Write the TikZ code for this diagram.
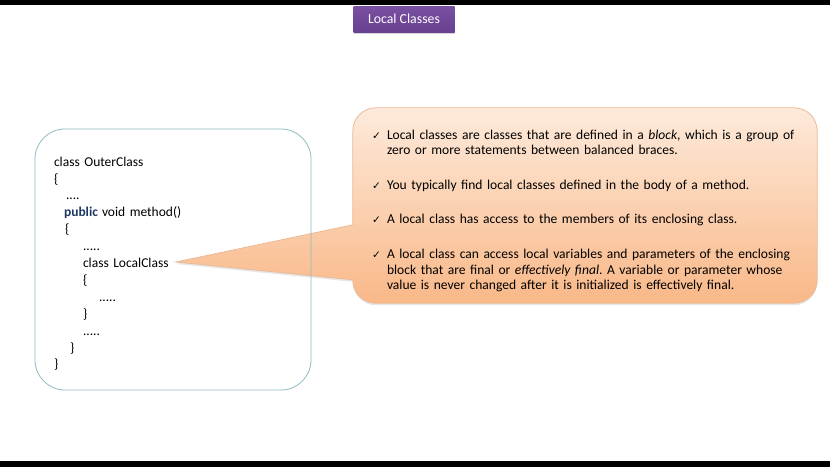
\documentclass[tikz,border=0pt]{standalone}
\usepackage{fontspec}
\setmainfont{Carlito}
\newfontfamily\symfont{DejaVu Sans}
\usetikzlibrary{positioning,backgrounds,shadows,calc}
\frenchspacing

\definecolor{titlepurple}{RGB}{122,80,162}
\definecolor{titledark}{RGB}{104,64,144}
\definecolor{codeedge}{RGB}{143,186,194}
\definecolor{kwblue}{RGB}{31,56,100}
\definecolor{notetop}{RGB}{253,234,219}
\definecolor{notebottom}{RGB}{249,184,136}
\definecolor{noteedge}{RGB}{236,186,150}

\newcommand{\tick}{\makebox[15pt][l]{\symfont\fontsize{10.5}{10.5}\selectfont ✓}}

\tikzset{
  titlebox/.style={top color=titlepurple, bottom color=titledark, text=white,
    minimum width=101pt, minimum height=26pt, inner sep=0pt,
    drop shadow={opacity=0.3, shadow xshift=0pt, shadow yshift=-2pt},
    font=\fontsize{13.8}{16.8}\selectfont},
  codebox/.style={draw=codeedge, line width=0.8pt, rounded corners=30pt,
    minimum width=276pt, minimum height=261pt, text width=238pt,
    inner xsep=19pt, inner ysep=0pt, align=left,
    font=\fontsize{13.5}{16.9}\selectfont},
  notebox/.style={minimum width=464pt, minimum height=195pt, text width=426pt,
    inner xsep=19pt, inner ysep=0pt, align=left,
    font=\fontsize{13.55}{15.6}\selectfont},
  calloutshape/.style={draw=noteedge, line width=0.8pt,
    top color=notetop, bottom color=notebottom,
    drop shadow={opacity=0.2, shadow xshift=0pt, shadow yshift=-2pt}}
}

\begin{document}
\begin{tikzpicture}[x=1pt,y=-1pt]
    \useasboundingbox (0,0) rectangle (830,467);
    \fill[black] (0,0) rectangle (830,5);
    \fill[black] (0,461) rectangle (830,467);

    \node[titlebox] (title) at (404,19) {Local Classes};

    \node[codebox] (code) at (173,259.5) {\rule{0pt}{18pt}class OuterClass\\
      \{\\
      \hspace*{12pt}....\\
      \hspace*{10pt}{\bfseries\color{kwblue}public}\hspace{4pt}void method()\\
      \hspace*{11pt}\{\\
      \hspace*{29pt}.....\\
      \hspace*{29pt}class LocalClass\\
      \hspace*{29pt}\{\\
      \hspace*{45pt}.....\\
      \hspace*{29pt}\}\\
      \hspace*{29pt}.....\\
      \hspace*{16pt}\}\\
      \}};
    \coordinate (tip) at (176,262);

    \node[notebox] (notes) at (585,205.5) {\rule{0pt}{20pt}\mbox{\tick Local classes are classes that are defined in a \textit{block}, which is a group of}\\
      \hspace*{15pt}zero or more statements between balanced braces.\\[19pt]
      \tick You typically find local classes defined in the body of a method.\\[19pt]
      \tick A local class has access to the members of its enclosing class.\\[19pt]
      \tick A local class can access local variables and parameters of the enclosing\\
      \mbox{\hspace*{15pt}block that are final or \textit{effectively final}. A variable or parameter whose}\\
      \hspace*{15pt}value is never changed after it is initialized is effectively final.};

    % callout with its pointer, behind the text
    \begin{scope}[on background layer]
    \path[calloutshape] (tip)
      -- ($(notes.north west)+(0,117)$) [rounded corners=23pt]
      -- (notes.north west) -- (notes.north east)
      -- (notes.south east) -- (notes.south west) [sharp corners]
      -- ($(notes.north west)+(0,172)$) -- cycle;
    \end{scope}
  \end{tikzpicture}
\end{document}
